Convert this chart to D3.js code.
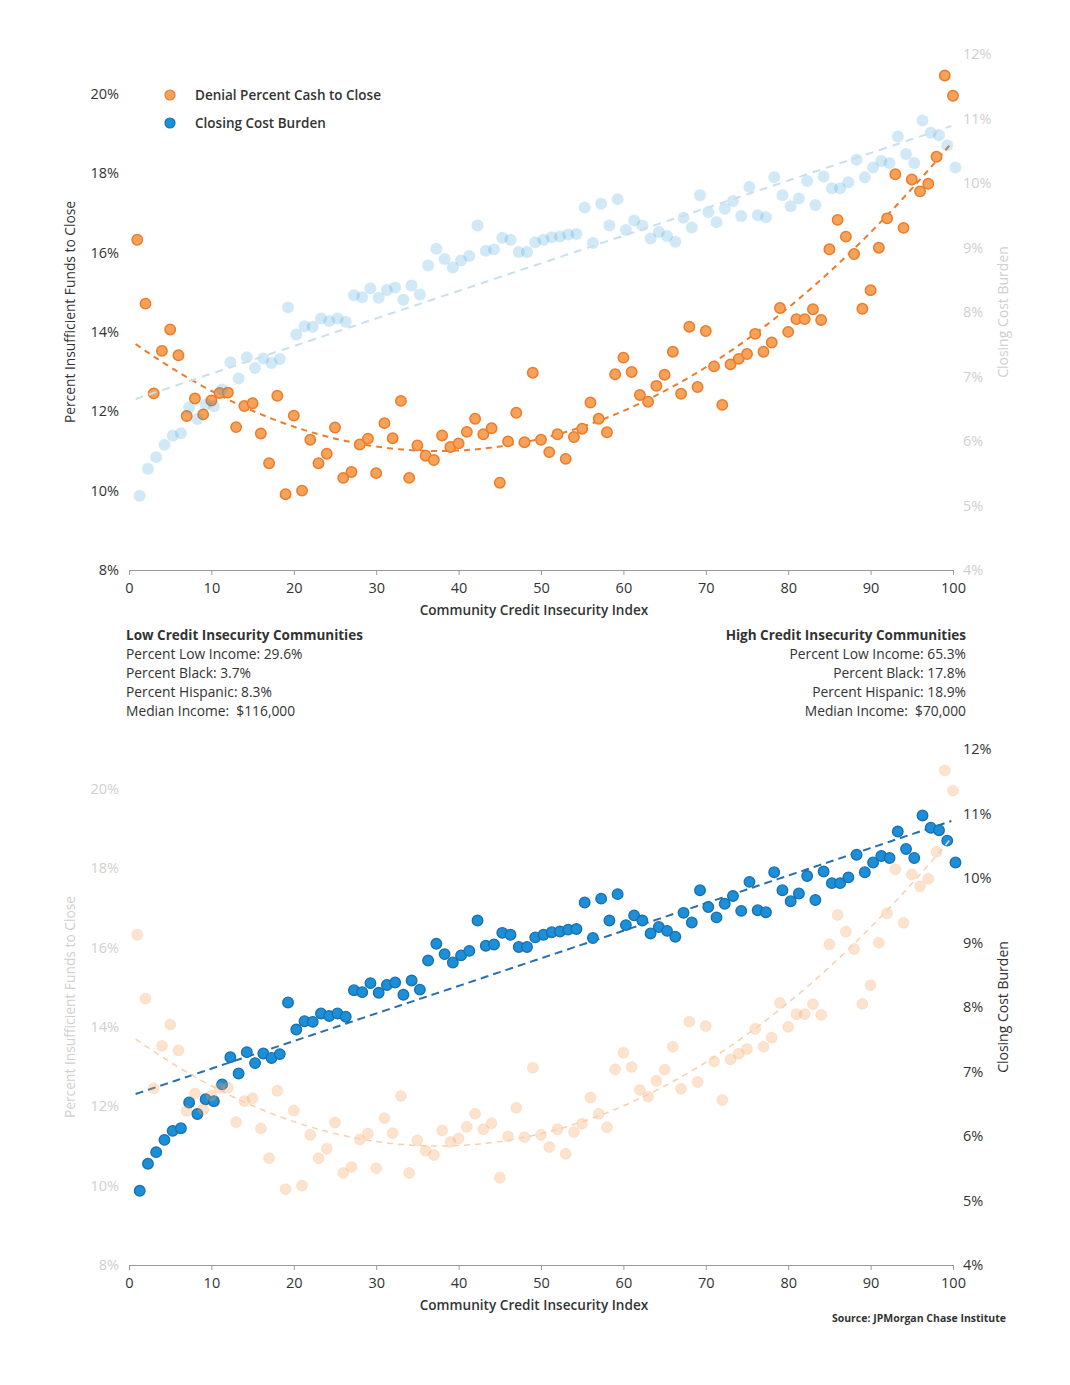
<!DOCTYPE html>
<html lang="en">
<head>
<meta charset="utf-8">
<script src="https://cdn.jsdelivr.net/npm/d3@7"></script>
<style>
  body { margin: 0; background: #fff; }
  svg { display: block; font-family: "Open Sans", sans-serif; }
  .axis text { font-family: "Open Sans", sans-serif; }
</style>
</head>
<body>
<svg id="chart" width="1070" height="1385"></svg>
<script>
// community credit insecurity index, 1..100
var xIndex = d3.range(1, 101);
var xTicks = [0, 10, 20, 30, 40, 50, 60, 70, 80, 90, 100];
var leftTicks = [8, 10, 12, 14, 16, 18, 20];
var rightTicks = [4, 5, 6, 7, 8, 9, 10, 11, 12];

// denial percent cash to close (left axis, %)
var denialPct = [
  16.32, 14.71, 12.45, 13.52, 14.06, 13.41, 11.88, 12.32, 11.92, 12.27,
  12.46, 12.47, 11.60, 12.13, 12.20, 11.44, 10.69, 12.39, 9.91, 11.89,
  10.00, 11.28, 10.69, 10.93, 11.59, 10.32, 10.47, 11.16, 11.31, 10.44,
  11.70, 11.32, 12.26, 10.32, 11.14, 10.88, 10.77, 11.39, 11.10, 11.19,
  11.48, 11.81, 11.42, 11.57, 10.20, 11.24, 11.96, 11.22, 12.97, 11.28,
  10.97, 11.42, 10.80, 11.35, 11.56, 12.22, 11.81, 11.47, 12.93, 13.35,
  12.99, 12.41, 12.24, 12.64, 12.92, 13.50, 12.44, 14.13, 12.61, 14.02,
  13.13, 12.16, 13.18, 13.32, 13.44, 13.95, 13.50, 13.73, 14.60, 14.00,
  14.32, 14.32, 14.57, 14.30, 16.08, 16.82, 16.40, 15.96, 14.58, 15.05,
  16.12, 16.86, 17.97, 16.62, 17.84, 17.54, 17.73, 18.41, 20.46, 19.95
];

// closing cost burden (right axis, %)
var closingBurden = [
  5.15, 5.57, 5.75, 5.94, 6.08, 6.12, 6.52, 6.34, 6.57, 6.54,
  6.80, 7.22, 6.97, 7.30, 7.13, 7.28, 7.21, 7.27, 8.07, 7.65,
  7.78, 7.77, 7.90, 7.86, 7.90, 7.85, 8.26, 8.23, 8.37, 8.22,
  8.34, 8.38, 8.19, 8.41, 8.27, 8.72, 8.98, 8.82, 8.69, 8.80,
  8.87, 9.34, 8.95, 8.97, 9.15, 9.12, 8.93, 8.93, 9.08, 9.12,
  9.16, 9.17, 9.20, 9.21, 9.62, 9.07, 9.68, 9.34, 9.75, 9.27,
  9.42, 9.34, 9.14, 9.24, 9.18, 9.09, 9.46, 9.31, 9.81, 9.55,
  9.39, 9.60, 9.72, 9.49, 9.94, 9.50, 9.47, 10.09, 9.81, 9.64,
  9.76, 10.03, 9.66, 10.10, 9.92, 9.92, 10.01, 10.36, 10.09, 10.24,
  10.34, 10.31, 10.72, 10.45, 10.31, 10.97, 10.78, 10.74, 10.58, 10.24
];

var lowStats = ["Percent Low Income: 29.6%", "Percent Black: 3.7%", "Percent Hispanic: 8.3%", "Median Income:  $116,000"];
var highStats = ["Percent Low Income: 65.3%", "Percent Black: 17.8%", "Percent Hispanic: 18.9%", "Median Income:  $70,000"];

var orange = "#f7a259", orangeDark = "#ec7c2c";
var blue = "#1b8fd8", blueDark = "#1a6fae", blueLine = "#2a6eab";
var dark = "#333", faded = "#cfcfcf";

// least squares polynomial fit (degree 1 or 2)
function polyFit(xs, ys, deg) {
  var n = deg + 1, A = [], b = [];
  for (var i = 0; i < n; i++) { A.push(d3.range(n).map(function(){return 0;})); b.push(0); }
  xs.forEach(function(x, k) {
    for (var i = 0; i < n; i++) {
      b[i] += ys[k] * Math.pow(x, i);
      for (var j = 0; j < n; j++) A[i][j] += Math.pow(x, i + j);
    }
  });
  // gaussian elimination
  for (var c = 0; c < n; c++) {
    for (var r = c + 1; r < n; r++) {
      var f = A[r][c] / A[c][c];
      for (var j = c; j < n; j++) A[r][j] -= f * A[c][j];
      b[r] -= f * b[c];
    }
  }
  var coef = new Array(n);
  for (var r = n - 1; r >= 0; r--) {
    var s = b[r];
    for (var j = r + 1; j < n; j++) s -= A[r][j] * coef[j];
    coef[r] = s / A[r][r];
  }
  return function(x) { return coef.reduce(function(acc, c, i){ return acc + c * Math.pow(x, i); }, 0); };
}

var blueOffset = 0.3;
var blueX = xIndex.map(function(v){ return v + blueOffset; });
var denialFit = polyFit(xIndex, denialPct, 2);
var burdenFit = polyFit(blueX, closingBurden, 1);

var svg = d3.select("#chart");
var x = d3.scaleLinear().domain([0, 100]).range([129, 953]);

var drawPanel = function(top, focus) {
  var bottom = top + 516;
  var yL = d3.scaleLinear().domain([8, 21]).range([bottom, top]);
  var yR = d3.scaleLinear().domain([4, 12]).range([bottom, top]);
  var g = svg.append("g");
  var leftCol = focus == "orange" ? dark : faded;
  var rightCol = focus == "blue" ? dark : faded;

  // x axis
  var xa = g.append("g").attr("class", "axis")
    .attr("transform", "translate(0," + bottom + ")")
    .call(d3.axisBottom(x).tickValues(xTicks).tickSize(5).tickSizeOuter(0).tickPadding(8));
  xa.select(".domain").attr("stroke", "#9a9a9a");
  xa.selectAll(".tick line").attr("stroke", "#9a9a9a");
  xa.selectAll("text").attr("fill", dark).style("font-size", "14.5px");

  g.append("text")
    .attr("x", 534).attr("y", bottom + 45)
    .attr("text-anchor", "middle")
    .style("font-size", "13.6px").style("font-weight", 600)
    .attr("fill", dark)
    .text("Community Credit Insecurity Index");

  // left axis
  var la = g.append("g").attr("class", "axis")
    .attr("transform", "translate(129,0)")
    .call(d3.axisLeft(yL).tickValues(leftTicks).tickSize(0).tickPadding(10)
      .tickFormat(function(d){ return d + "%"; }));
  la.select(".domain").remove();
  la.selectAll("text").attr("fill", leftCol).style("font-size", "14.5px");

  g.append("text")
    .attr("transform", "translate(75," + (top + 258) + ") rotate(-90)")
    .attr("text-anchor", "middle")
    .style("font-size", "13.8px")
    .attr("fill", leftCol)
    .text("Percent Insufficient Funds to Close");

  // right axis
  var ra = g.append("g").attr("class", "axis")
    .attr("transform", "translate(953,0)")
    .call(d3.axisRight(yR).tickValues(rightTicks).tickSize(0).tickPadding(10)
      .tickFormat(function(d){ return d + "%"; }));
  ra.select(".domain").remove();
  ra.selectAll("text").attr("fill", rightCol).style("font-size", "14.5px");

  g.append("text")
    .attr("transform", "translate(1008," + (top + 258) + ") rotate(-90)")
    .attr("text-anchor", "middle")
    .style("font-size", "14px")
    .attr("fill", rightCol)
    .text("Closing Cost Burden");

  var orangeLine = d3.line()
    .x(function(d){ return x(d); })
    .y(function(d){ return yL(denialFit(d)); });
  var blueLineGen = d3.line()
    .x(function(d){ return x(d); })
    .y(function(d){ return yR(burdenFit(d)); });
  var curveX = d3.range(0.8, 100.01, 0.5);

  if (focus == "orange") {
    g.append("path").datum(curveX)
      .attr("d", orangeLine).attr("fill", "none")
      .attr("stroke", orangeDark).attr("stroke-width", 2)
      .attr("stroke-dasharray", "6,5");
    g.selectAll(".od").data(denialPct).enter().append("circle")
      .attr("cx", function(d, i){ return x(xIndex[i]); })
      .attr("cy", function(d){ return yL(d); })
      .attr("r", 5.2)
      .attr("fill", orange).attr("stroke", orangeDark).attr("stroke-width", 1.5);
    g.selectAll(".bd").data(closingBurden).enter().append("circle")
      .attr("cx", function(d, i){ return x(blueX[i]); })
      .attr("cy", function(d){ return yR(d); })
      .attr("r", 6)
      .attr("fill", blue).attr("fill-opacity", 0.2);
    g.append("path").datum(curveX)
      .attr("d", blueLineGen).attr("fill", "none")
      .attr("stroke", "#c9dfee").attr("stroke-width", 2)
      .attr("stroke-dasharray", "8,6");
  } else {
    g.append("path").datum(curveX)
      .attr("d", blueLineGen).attr("fill", "none")
      .attr("stroke", blueLine).attr("stroke-width", 2)
      .attr("stroke-dasharray", "8,5");
    g.selectAll(".bd").data(closingBurden).enter().append("circle")
      .attr("cx", function(d, i){ return x(blueX[i]); })
      .attr("cy", function(d){ return yR(d); })
      .attr("r", 5.3)
      .attr("fill", blue).attr("stroke", blueDark).attr("stroke-width", 1.3);
    g.selectAll(".od").data(denialPct).enter().append("circle")
      .attr("cx", function(d, i){ return x(xIndex[i]); })
      .attr("cy", function(d){ return yL(d); })
      .attr("r", 5.5)
      .attr("fill", orange).attr("fill-opacity", 0.3)
      .attr("stroke", orangeDark).attr("stroke-opacity", 0.12);
    g.append("path").datum(curveX)
      .attr("d", orangeLine).attr("fill", "none")
      .attr("stroke", "#f8cfae").attr("stroke-width", 1.5)
      .attr("stroke-dasharray", "6,5");
  }
};

drawPanel(54, "orange");
drawPanel(749, "blue");

// legend (top panel)
var legend = [
  {label: "Denial Percent Cash to Close", fill: orange, stroke: orangeDark},
  {label: "Closing Cost Burden", fill: blue, stroke: blueDark}
];
var lg = svg.append("g");
lg.selectAll("circle").data(legend).enter().append("circle")
  .attr("cx", 170).attr("cy", function(d, i){ return 95 + i * 28; })
  .attr("r", 5).attr("fill", function(d){ return d.fill; })
  .attr("stroke", function(d){ return d.stroke; }).attr("stroke-width", 1.2);
lg.selectAll("text").data(legend).enter().append("text")
  .attr("x", 195).attr("y", function(d, i){ return 95 + i * 28; })
  .attr("dy", "0.35em")
  .style("font-size", "13.5px").style("font-weight", 600)
  .attr("fill", dark)
  .text(function(d){ return d.label; });

// community stats
var statBlock = function(xPos, anchor, title, lines) {
  var t = svg.append("g");
  t.append("text").attr("x", xPos).attr("y", 640)
    .attr("text-anchor", anchor)
    .style("font-size", "13.5px").style("font-weight", 700)
    .attr("fill", dark).text(title);
  t.selectAll(".ln").data(lines).enter().append("text")
    .attr("x", xPos).attr("y", function(d, i){ return 659 + i * 19; })
    .attr("text-anchor", anchor)
    .style("font-size", "13.8px")
    .attr("fill", dark)
    .style("white-space", "pre")
    .text(function(d){ return d; });
};
statBlock(126, "start", "Low Credit Insecurity Communities", lowStats);
statBlock(966, "end", "High Credit Insecurity Communities", highStats);

svg.append("text")
  .attr("x", 1006).attr("y", 1322)
  .attr("text-anchor", "end")
  .style("font-size", "10.5px").style("font-weight", 700)
  .attr("fill", dark)
  .text("Source: JPMorgan Chase Institute");
</script>
</body>
</html>
